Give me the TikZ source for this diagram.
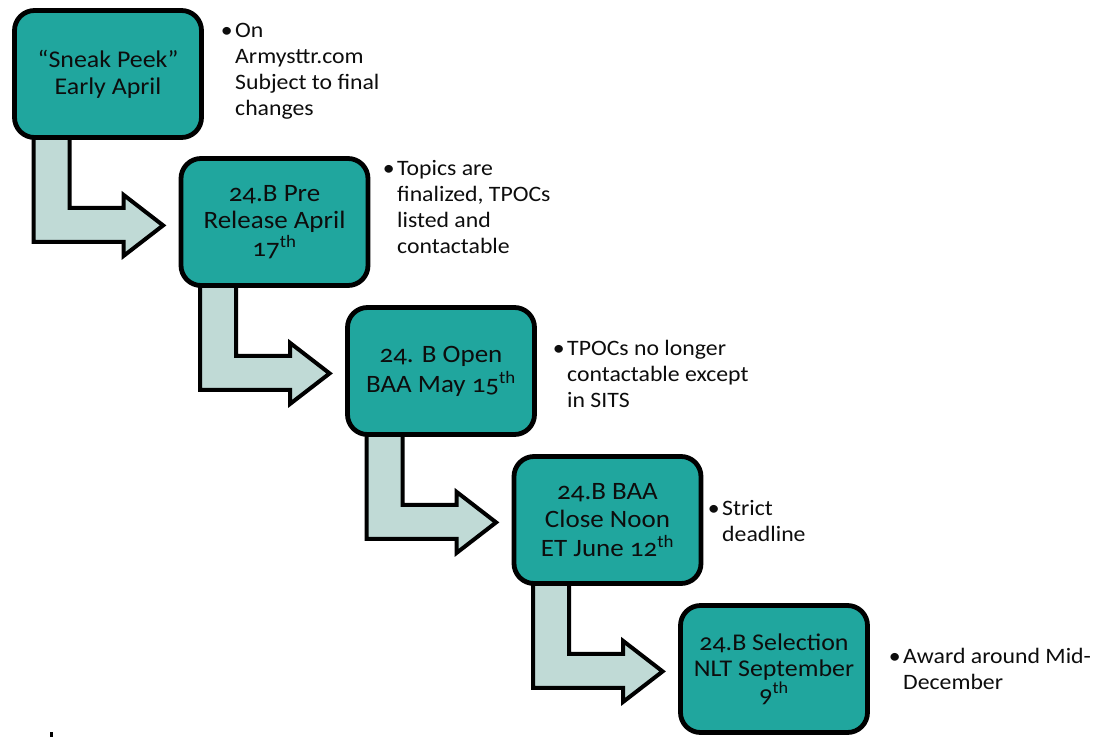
\documentclass[tikz,border=0pt]{standalone}
\usepackage{fontspec}
\setmainfont{Carlito}[Numbers=OldStyle, FakeStretch=1.08]
\usetikzlibrary{calc}
\pgfdeclarelayer{bg}
\pgfsetlayers{bg,main}
\definecolor{tealbox}{RGB}{32,166,158}
\definecolor{palearrow}{RGB}{192,218,214}
\definecolor{inktext}{RGB}{13,13,13}
\tikzset{
  stagebox/.style={draw=black, line width=4.8pt, fill=tealbox, rounded corners=20pt,
    minimum width=187pt, minimum height=127pt, inner sep=0pt, align=center,
    text=inktext, font=\fontsize{25}{28}\selectfont},
  bentarrow/.style={draw=black, line width=4pt, fill=palearrow, line join=miter},
  note/.style={anchor=north west, inner sep=0pt, align=left, text=inktext,
    font=\fontsize{22}{26}\selectfont},
}
\newcommand\bulletmark{\strut\makebox[10pt][r]{•\hspace{2.5pt}}}
\newcommand\noteindent{\hspace*{10pt}}
\newcommand\stagearrow[1]{%
  \path[bentarrow]
    ($(#1.south west)+(21.5,-10)$) --
    ($(#1.south west)+(21.5,102)$) --
    ($(#1.south west)+(111.5,102)$) --
    ($(#1.south west)+(111.5,116)$) --
    ($(#1.south west)+(151,85.5)$) --
    ($(#1.south west)+(111.5,55)$) --
    ($(#1.south west)+(111.5,68)$) --
    ($(#1.south west)+(57.5,68)$) --
    ($(#1.south west)+(57.5,-10)$) -- cycle;}
\begin{document}
\begin{tikzpicture}[x=1pt,y=-1pt]
\useasboundingbox (0,0) rectangle (1095,737);

\node[stagebox, font=\fontsize{24}{27}\selectfont] (b1) at (108,74) {“Sneak Peek”\\Early April};
\node[stagebox, font=\fontsize{25}{27.5}\selectfont] (b2) at (274.5,222) {24.B Pre\\Release April\\17\textsuperscript{th}};
\node[stagebox, font=\fontsize{25}{30}\selectfont] (b3) at (441,371) {24. B Open\\BAA May 15\textsuperscript{th}};
\node[stagebox, font=\fontsize{25}{28.5}\selectfont] (b4) at (607.5,520) {24.B BAA\\Close Noon\\ET June 12\textsuperscript{th}};
\node[stagebox, font=\fontsize{24}{26}\selectfont] (b5) at (774,669) {24.B Selection\\NLT September\\9\textsuperscript{th}};

\begin{pgfonlayer}{bg}
  \stagearrow{b1}
  \stagearrow{b2}
  \stagearrow{b3}
  \stagearrow{b4}
\end{pgfonlayer}

\node[note] (n1) at (225,18.8) {\bulletmark On\\\noteindent Armysttr.com\\\noteindent Subject to final\\\noteindent changes};
\node[note] (n2) at (387,157) {\bulletmark Topics are\\\noteindent finalized, TPOCs\\\noteindent listed and\\\noteindent contactable};
\node[note] (n3) at (557,337) {\bulletmark TPOCs no longer\\\noteindent contactable except\\\noteindent in SITS};
\node[note] (n4) at (712,497) {\bulletmark Strict\\\noteindent deadline};
\node[note] (n5) at (893,645) {\bulletmark Award around Mid-\\\noteindent December};

\fill[black] (50,732) rectangle (53,737);
\end{tikzpicture}
\end{document}
